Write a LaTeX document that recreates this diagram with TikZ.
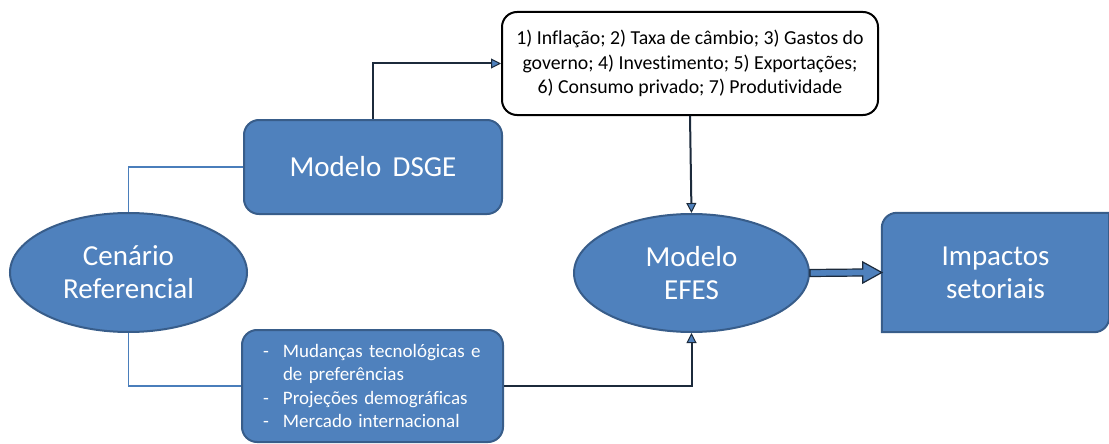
\documentclass[tikz,border=0pt]{standalone}
\usepackage{fontspec}
\setmainfont{Carlito}[Ligatures=NoCommon]
\usepackage{tikz}
\usetikzlibrary{backgrounds}
\usetikzlibrary{positioning}
\usetikzlibrary{calc}
\usetikzlibrary{shapes}
\usetikzlibrary{arrows.meta}
\definecolor{boxblue}{HTML}{4F81BD}
\definecolor{boxedge}{HTML}{385D8A}
\definecolor{arrdark}{HTML}{1C2A3B}
\definecolor{linkblue}{HTML}{4A7EBB}
\tikzset{bluebox/.style={draw=boxedge, line width=2pt, fill=boxblue, rounded corners=15pt, text=white, align=center, font=\fontsize{29}{33}\selectfont}}
\tikzset{blueoval/.style={ellipse, draw=boxedge, line width=2pt, fill=boxblue, text=white, inner sep=0pt, align=center, font=\fontsize{29}{33}\selectfont}}
\tikzset{listbox/.style={draw=boxedge, line width=2pt, fill=boxblue, rounded corners=15pt, text=white, align=left, inner xsep=21pt, font=\fontsize{19}{23.5}\selectfont}}
\tikzset{varbox/.style={draw=black, line width=2pt, fill=white, rounded corners=15pt, align=center, font=\fontsize{19.8}{24.5}\selectfont}}
\tikzset{darkarrow/.style={draw=arrdark, line width=2pt, -{Triangle[length=10pt,width=10pt,fill=boxblue,line width=1pt]}}}
\tikzset{linkline/.style={draw=linkblue, line width=1.2pt}}
\tikzset{blockarrow/.style={draw=arrdark, line width=1.2pt, fill=boxblue, line join=miter}}

\begin{document}
\begin{tikzpicture}[x=1pt, y=-1pt]
\useasboundingbox (0,0) rectangle (1109,444);

\node[bluebox, minimum width=258pt, minimum height=94pt] (dsge) at (373,167) {Modelo\ \,DSGE};
\node[varbox, minimum width=376pt, minimum height=103pt] (vars) at (690,63.5)
{1) Inflação; 2) Taxa de câmbio; 3) Gastos do\\ governo; 4) Investimento; 5) Exportações;\\ 6) Consumo privado; 7) Produtividade};
\node[blueoval, minimum width=237pt, minimum height=119pt] (cen) at (128.5,272.5) {Cenário\\ Referencial};
\node[blueoval, minimum width=235pt, minimum height=118pt] (efes) at (691.5,273) {Modelo\\ EFES};
\node[listbox, text width=219pt, minimum height=112pt] (choques) at (372.5,386)
{\makebox[20pt][l]{-}Mudanças tecnológicas e\\ \hspace*{20pt}de preferências\\ \makebox[20pt][l]{-}Projeções demográficas\\ \makebox[20pt][l]{-}Mercado internacional};
\node[text=white, align=center, minimum width=227pt, minimum height=119pt, font=\fontsize{29}{33}\selectfont] (imp) at (995.5,272.5) {Impactos\\ setoriais};

\begin{scope}[on background layer]
\draw[draw=boxedge, line width=2pt, fill=boxblue] (imp.south west) -- ([yshift=-15pt]imp.north west) arc[start angle=180, end angle=90, radius=15pt] -- (imp.north east) -- ([yshift=15pt]imp.south east) arc[start angle=0, end angle=-90, radius=15pt] -- cycle;
\end{scope}

\draw[linkline] (cen.north) |- (dsge.west);
\draw[linkline] (cen.south) |- (choques.west);

\draw[darkarrow] (dsge.north) |- (vars.west);
\draw[darkarrow] (vars.south) -- (efes.north);
\draw[darkarrow] (choques.east) -| (efes.south);

\draw[blockarrow] ($(efes.east)+(0,-3.5)$) -- ($(imp.west)+(-19,-3.5)$) -- ($(imp.west)+(-19,-10.5)$) -- (imp.west)
  -- ($(imp.west)+(-19,10.5)$) -- ($(imp.west)+(-19,3.5)$) -- ($(efes.east)+(0,3.5)$) -- cycle;

\end{tikzpicture}
\end{document}
